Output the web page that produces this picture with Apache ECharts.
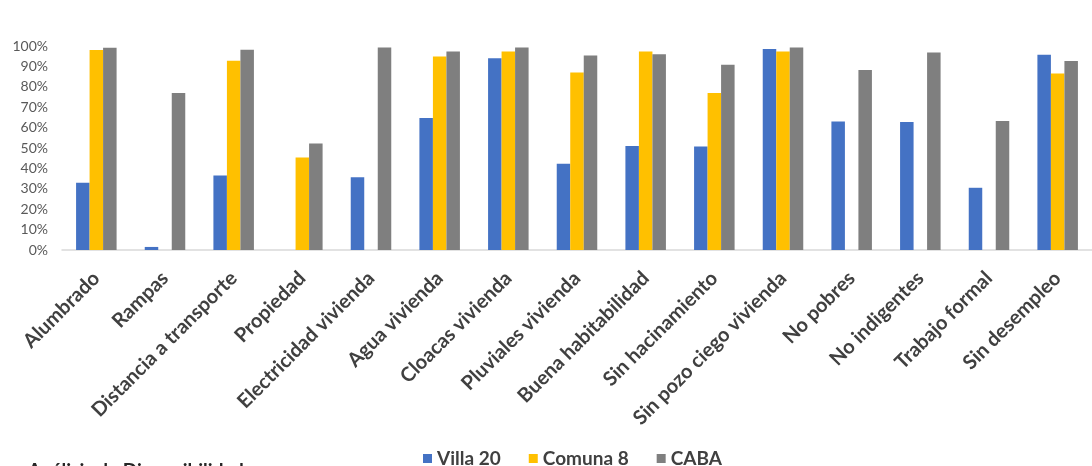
<!DOCTYPE html>
<html>
<head>
<meta charset="utf-8">
<script src="https://cdn.jsdelivr.net/npm/echarts@6/dist/echarts.min.js"></script>
<style>
  html, body { margin: 0; padding: 0; background: #ffffff; overflow: hidden; }
  #chart { width: 1092px; height: 466px; }
</style>
</head>
<body>
<div id="chart"></div>
<script>
// Indicadores de acceso y bienestar: Villa 20 vs Comuna 8 vs CABA (porcentajes)
const categories = [
  'Alumbrado', 'Rampas', 'Distancia a transporte', 'Propiedad',
  'Electricidad vivienda', 'Agua vivienda', 'Cloacas vivienda',
  'Pluviales vivienda', 'Buena habitabilidad', 'Sin hacinamiento',
  'Sin pozo ciego vivienda', 'No pobres', 'No indigentes',
  'Trabajo formal', 'Sin desempleo'
];

const seriesNames = ['Villa 20', 'Comuna 8', 'CABA'];

const villa20 = [33, 1.5, 36.5, null, 35.7, 64.7, 94, 42.3, 51, 50.7, 98.5, 63, 62.7, 30.5, 95.7];
const comuna8 = [98, null, 92.8, 45.3, null, 94.8, 97.3, 87, 97.3, 77, 97.3, null, null, null, 86.5];
const caba    = [99.2, 77, 98.2, 52.2, 99.3, 97.3, 99.3, 95.3, 96, 90.8, 99.3, 88.2, 96.8, 63.2, 92.7];

const yTicks = { min: 0, max: 100, step: 10 };

const colors = ['#4472C4', '#FFC000', '#7F7F7F'];

const chart = echarts.init(document.getElementById('chart'), null, { renderer: 'canvas' });

function barSeries(name, data, color) {
  return {
    name: name,
    type: 'bar',
    data: data,
    itemStyle: { color: color },
    barGap: '0%',
    barCategoryGap: '41%',
    emphasis: { disabled: true }
  };
}

chart.setOption({
  animation: false,
  backgroundColor: '#ffffff',
  color: colors,
  grid: { left: 62, top: 46, width: 1042, height: 204, containLabel: false },
  legend: {
    data: seriesNames,
    left: 418,
    top: 444,
    itemWidth: 9,
    itemHeight: 9,
    itemGap: 28,
    icon: 'rect',
    textStyle: { fontFamily: 'Lato', fontWeight: 'bold', fontSize: 19, color: '#404040' }
  },
  xAxis: {
    type: 'category',
    data: categories,
    axisLine: { show: true, lineStyle: { color: '#d9d9d9', width: 1.5 } },
    axisTick: { show: false },
    axisLabel: {
      interval: 0,
      rotate: 45,
      margin: 25,
      fontFamily: 'Lato',
      fontWeight: 'bold',
      fontSize: 20,
      color: '#404040'
    }
  },
  yAxis: {
    type: 'value',
    min: yTicks.min,
    max: yTicks.max,
    interval: yTicks.step,
    splitLine: { show: false },
    axisLine: { show: false },
    axisTick: { show: false },
    axisLabel: {
      margin: 14,
      formatter: '{value}%',
      fontFamily: 'Lato',
      fontSize: 14,
      color: '#595959'
    }
  },
  graphic: [{
    type: 'text',
    left: 28,
    top: 461,
    style: {
      text: 'Análisis de Disponibilidad',
      fontFamily: 'Lato',
      fontWeight: 'bold',
      fontSize: 19,
      fill: '#262626'
    }
  }],
  series: [
    barSeries(seriesNames[0], villa20, colors[0]),
    barSeries(seriesNames[1], comuna8, colors[1]),
    barSeries(seriesNames[2], caba, colors[2])
  ]
});
</script>
</body>
</html>
